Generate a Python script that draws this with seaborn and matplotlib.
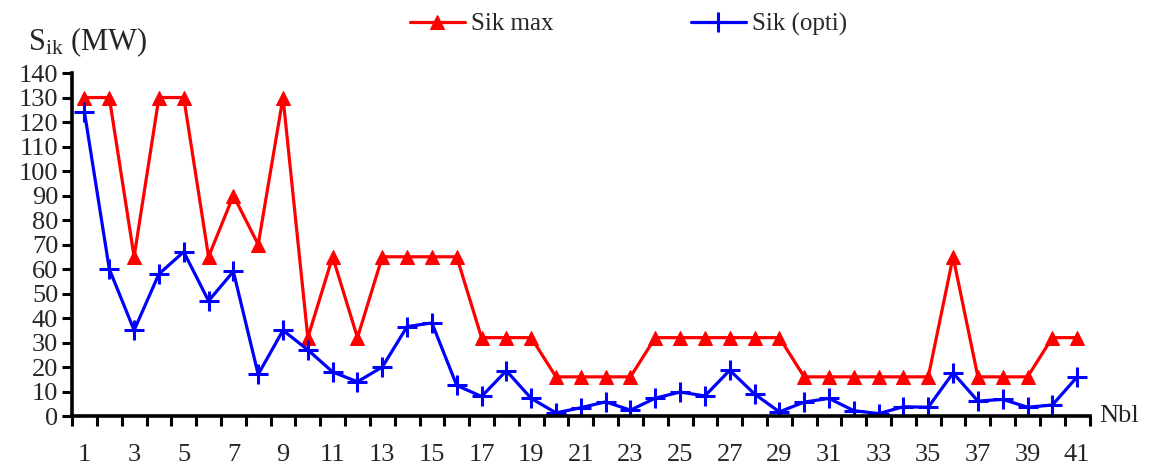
import matplotlib
matplotlib.use("Agg")
import matplotlib.pyplot as plt
import seaborn as sns
import pandas as pd
import numpy as np
from matplotlib.ticker import FixedLocator

nbl = list(range(1, 42))
sik_max = [130, 130, 65, 130, 130, 65, 90, 70, 130, 32, 65, 32, 65, 65, 65, 65,
           32, 32, 32, 16, 16, 16, 16, 32, 32, 32, 32, 32, 32, 16, 16, 16, 16, 16,
           16, 65, 16, 16, 16, 32, 32]
sik_opti = [124, 60, 35, 58, 67, 47, 59, 17, 35, 27, 18, 14, 20, 36.5, 38, 12.5,
            8, 18.5, 7.2, 1.3, 3.4, 5.8, 2.4, 7.3, 9.8, 8.2, 18.7, 9, 1.7, 5.7,
            7.2, 2.2, 1.0, 3.8, 3.6, 17.6, 6.1, 6.8, 3.6, 4.5, 16]
x_labels = [str(v) for v in range(1, 42, 2)]

sns.set_style("white")
plt.rcParams['font.family'] = ['Liberation Serif', 'DejaVu Serif']
plt.rcParams['mathtext.fontset'] = 'custom'
plt.rcParams['mathtext.rm'] = 'Liberation Serif'

df = pd.DataFrame({"Nbl": nbl, "Sik max": sik_max, "Sik (opti)": sik_opti})

fig = plt.figure(figsize=(11.53, 4.68), dpi=100)
ax = fig.add_axes([0.0625, 0.111, 0.8825, 0.733])

sns.lineplot(data=df, x="Nbl", y="Sik max", ax=ax, color="#ff0000", lw=2.3,
             marker="^", markersize=10, markeredgecolor="#ff0000", label="Sik max")
sns.lineplot(data=df, x="Nbl", y="Sik (opti)", ax=ax, color="#0000ff", lw=2.3,
             marker="+", markersize=14, markeredgewidth=2.2,
             markeredgecolor="#0000ff", markerfacecolor="#0000ff", label="Sik (opti)")

ax.set_xlim(0.5, 41.5)
ax.set_ylim(0, 140)
ax.set_yticks(np.arange(0, 141, 10))
ax.tick_params(axis='y', labelsize=19, direction='out', length=7, width=2.2,
               color='black', pad=3, left=True)
ax.xaxis.set_major_locator(FixedLocator(list(range(1, 42, 2))))
ax.set_xticklabels(x_labels)
ax.xaxis.set_minor_locator(FixedLocator(list(np.arange(0.5, 42, 1.0))))
ax.tick_params(axis='x', which='major', labelsize=19, length=0, pad=20)
ax.tick_params(axis='x', which='minor', direction='out', length=7, width=2.2,
               color='black', bottom=True)
for s in ['top', 'right']:
    ax.spines[s].set_visible(False)
for s in ['left', 'bottom']:
    ax.spines[s].set_color('black')
    ax.spines[s].set_linewidth(2.6)
ax.set_xlabel("")
ax.set_ylabel("")
ax.grid(False)

fig.text(0.024, 0.91, r"$\mathregular{S_{ik}}$ (MW)", fontsize=22, ha='left', va='center')
fig.text(0.953, 0.111, "Nbl", fontsize=19, ha='left', va='center')

ax.legend_.remove()
h, l = ax.get_legend_handles_labels()
fig.legend(h, l, loc='center', bbox_to_anchor=(0.545, 0.948), ncol=2, frameon=False,
           fontsize=18, handlelength=2.2, columnspacing=5.5, handletextpad=0.25)

fig.savefig("out.png", dpi=100)
